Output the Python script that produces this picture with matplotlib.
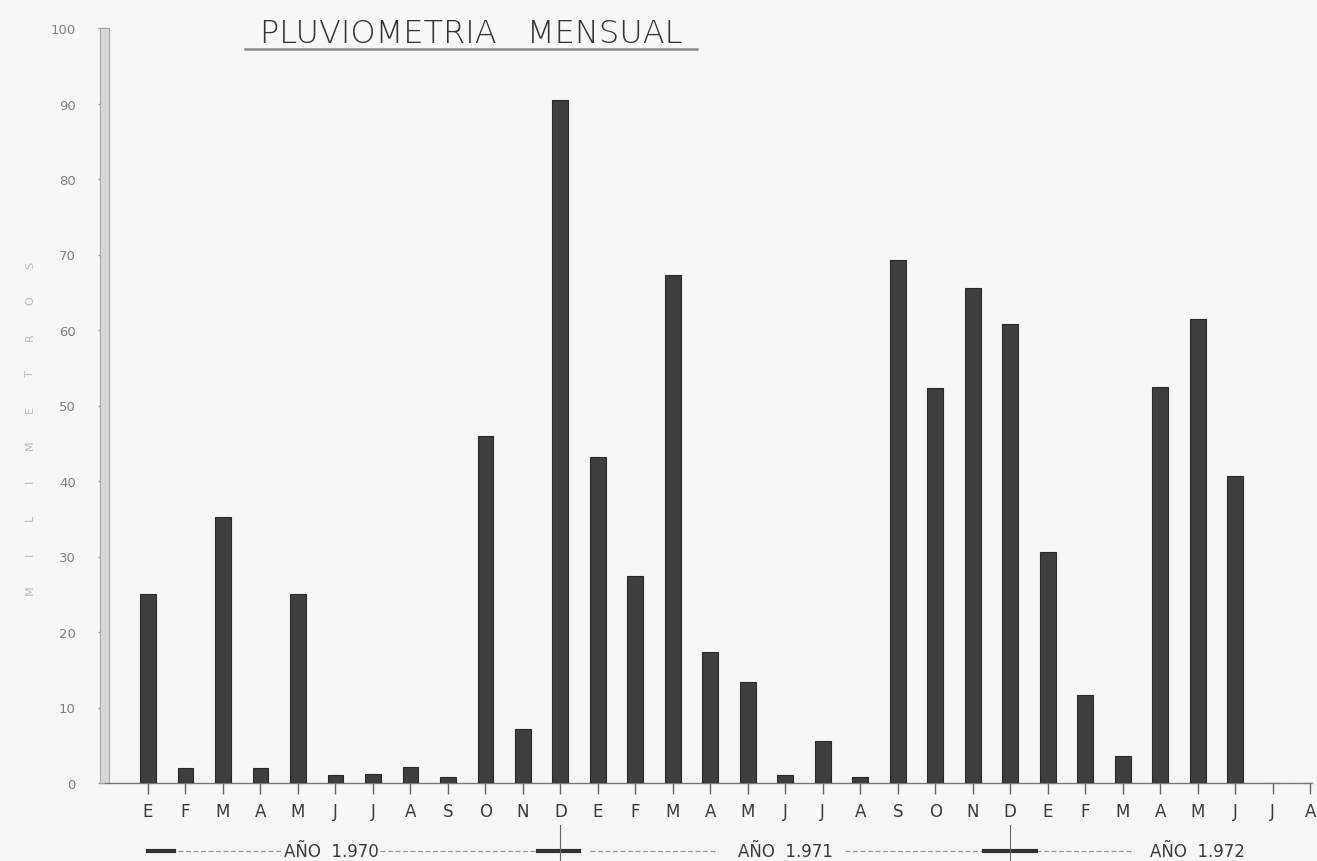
import numpy as np
import matplotlib
matplotlib.use('Agg')
import matplotlib.pyplot as plt
from matplotlib.patches import Rectangle
from matplotlib.lines import Line2D
import matplotlib.transforms as mtransforms

# monthly rainfall (mm), Jan 1970 - Aug 1972
meses = ['E', 'F', 'M', 'A', 'M', 'J', 'J', 'A', 'S', 'O', 'N', 'D',
         'E', 'F', 'M', 'A', 'M', 'J', 'J', 'A', 'S', 'O', 'N', 'D',
         'E', 'F', 'M', 'A', 'M', 'J', 'J', 'A']
lluvia_1970 = [25.0, 2.0, 35.2, 2.0, 25.0, 1.0, 1.2, 2.1, 0.8, 46.0, 7.1, 90.4]
lluvia_1971 = [43.2, 27.4, 67.3, 17.4, 13.4, 1.0, 5.6, 0.8, 69.3, 52.3, 65.5, 60.8]
lluvia_1972 = [30.6, 11.6, 3.6, 52.4, 61.4, 40.6, 0.0, 0.0]
anios = ['AÑO  1.970', 'AÑO  1.971', 'AÑO  1.972']
yticks = [0, 10, 20, 30, 40, 50, 60, 70, 80, 90, 100]

lluvia = lluvia_1970 + lluvia_1971 + lluvia_1972
x = np.arange(len(meses))

bg = '#f7f7f5'
fig = plt.figure(figsize=(13.17, 8.62), dpi=100, facecolor=bg)
ax = fig.add_axes([105/1317, 78/862, 1207/1317, 755/862])
ax.set_facecolor(bg)

ax.bar(x, lluvia, width=0.42, color='#3e3e3e', edgecolor='#2a2a2a', linewidth=0.8, zorder=3)

ax.set_xlim(-1.147, 31.05)
ax.set_ylim(0, 100)

for s in ['top', 'right', 'left']:
    ax.spines[s].set_visible(False)
ax.spines['bottom'].set_color('#777777')
ax.spines['bottom'].set_linewidth(1.0)

ax.set_xticks(x)
ax.set_xticklabels(meses, fontsize=12, color='#3a3a3a')
ax.tick_params(axis='x', length=8, width=1, color='#666666', pad=6)

ax.set_yticks(yticks)
ax.set_yticklabels([str(v) for v in yticks], fontsize=9.5, color='#808080')
ax.tick_params(axis='y', length=5, width=1, color='#999999', pad=16)

# hollow grey y axis column
ytrans = ax.get_yaxis_transform()
ax.add_patch(Rectangle((-0.0045, 0), 0.0075, 100, transform=ytrans,
                       facecolor='#d8d8d8', edgecolor='#a8a8a8', linewidth=0.8,
                       clip_on=False, zorder=2))

# year bands under the month labels
btrans = mtransforms.blended_transform_factory(ax.transData, ax.transAxes)
yb = -0.09
segs = [(0.0, 3.6), (6.2, 10.4), (11.8, 15.2), (18.6, 22.3), (23.7, 26.3)]
for a, b in segs:
    ax.add_line(Line2D([a, b], [yb, yb], transform=btrans, color='#999999',
                       lw=0.9, ls=(0, (4, 2)), clip_on=False))
for a, b in [(0.0, 0.7), (10.4, 11.5), (22.3, 23.7)]:
    ax.add_line(Line2D([a, b], [yb, yb], transform=btrans, color='#333333',
                       lw=3, clip_on=False))
for d in [11.0, 23.0]:
    ax.add_line(Line2D([d, d], [yb - 0.02, yb + 0.035], transform=btrans,
                       color='#666666', lw=0.8, clip_on=False))
for pos, txt in zip([4.9, 17.0, 28.0], anios):
    ax.text(pos, yb, txt, transform=btrans, ha='center', va='center',
            fontsize=12, color='#3a3a3a', clip_on=False)

# title
fig.text(471/1317, 1 - 34/862, 'PLUVIOMETRIA   MENSUAL', ha='center', va='center',
         fontsize=23, color='#333333', fontweight='light')
fig.add_artist(Line2D([245/1317, 697/1317], [1 - 50/862, 1 - 50/862],
                      color='#8a8a8a', lw=1.8))

# faint vertical axis label
letras = list('MILIMETROS')
for i, yy in enumerate(np.linspace(590, 265, len(letras))):
    fig.text(30/1317, 1 - yy/862, letras[i], rotation=90, ha='center', va='center',
             fontsize=8, color='#bbbbbb')

fig.savefig('out.png', dpi=100, facecolor=bg)
